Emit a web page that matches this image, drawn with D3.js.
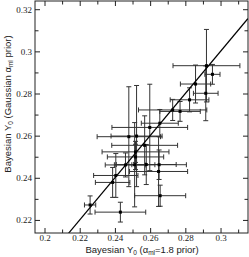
<!DOCTYPE html>
<html><head><meta charset="utf-8">
<script src="https://cdn.jsdelivr.net/npm/d3@7"></script>
<style>html,body{margin:0;padding:0;background:#fff}</style>
</head><body><svg id="c" width="249" height="257"></svg>
<script>
const xVals = [0.2259,0.2431,0.2387,0.2405,0.2460,0.2512,0.2578,0.2651,0.2648,0.2657,0.2517,0.2517,0.2479,0.2523,0.2569,0.2598,0.2655,0.2728,0.2770,0.2824,0.2916,0.2858,0.2954,0.2920];
const yVals = [0.2271,0.2237,0.2378,0.2411,0.2461,0.2462,0.2463,0.2462,0.2430,0.2315,0.2523,0.2499,0.2595,0.2598,0.2554,0.2639,0.2659,0.2722,0.2715,0.2770,0.2801,0.2845,0.2891,0.2932];
const xErr  = [0.0032,0.0144,0.0098,0.0126,0.0115,0.0115,0.0170,0.0155,0.0165,0.0145,0.0190,0.0160,0.0180,0.0145,0.0187,0.0215,0.0105,0.0194,0.0115,0.0110,0.0070,0.0086,0.0043,0.0190];
const yErr  = [0.0043,0.0047,0.0071,0.0104,0.0057,0.0200,0.0095,0.0070,0.0166,0.0050,0.0050,0.0060,0.0237,0.0240,0.0140,0.0205,0.0065,0.0050,0.0047,0.0057,0.0130,0.0090,0.0047,0.0172];
const xTickVals = [0.2,0.22,0.24,0.26,0.28,0.3];
const xTickLabels = ["0.2","0.22","0.24","0.26","0.28","0.3"];
const xMinorVals = [0.21,0.23,0.25,0.27,0.29,0.31];
const yTickVals = [0.22,0.24,0.26,0.28,0.3,0.32];
const yTickLabels = ["0.22","0.24","0.26","0.28","0.3","0.32"];
const yMinorVals = [0.23,0.25,0.27,0.29,0.31];
const xDomain = [0.1946,0.3156];
const yDomain = [0.2138,0.3239];

const L=35,R=248,T=1,B=233;
const svg = d3.select("#c");
const x = d3.scaleLinear().domain(xDomain).range([L,R]);
const y = d3.scaleLinear().domain(yDomain).range([B,T]);

const serif = "'Liberation Serif','DejaVu Serif',serif";
const sans = "'Liberation Sans',Arial,sans-serif";

function styleAxis(g){ g.select(".domain").remove(); g.selectAll("line").attr("stroke","#222"); g.selectAll("text").attr("font-family",serif).attr("font-size",9).attr("fill","#222"); }

svg.append("g").attr("transform",`translate(0,${B})`).call(d3.axisBottom(x).tickValues(xTickVals).tickSize(-5).tickPadding(2).tickFormat((d,i)=>xTickLabels[i])).call(styleAxis);
svg.append("g").attr("transform",`translate(0,${B})`).call(d3.axisBottom(x).tickValues(xMinorVals).tickSize(-3.5).tickFormat("")).call(styleAxis);
svg.append("g").attr("transform",`translate(0,${T})`).call(d3.axisTop(x).tickValues(xTickVals).tickSize(-5).tickFormat("")).call(styleAxis);
svg.append("g").attr("transform",`translate(0,${T})`).call(d3.axisTop(x).tickValues(xMinorVals).tickSize(-3.5).tickFormat("")).call(styleAxis);
svg.append("g").attr("transform",`translate(${L},0)`).call(d3.axisLeft(y).tickValues(yTickVals).tickSize(-5).tickPadding(3).tickFormat((d,i)=>yTickLabels[i])).call(styleAxis);
svg.append("g").attr("transform",`translate(${L},0)`).call(d3.axisLeft(y).tickValues(yMinorVals).tickSize(-3.5).tickFormat("")).call(styleAxis);
svg.append("g").attr("transform",`translate(${R},0)`).call(d3.axisRight(y).tickValues(yTickVals).tickSize(-5).tickFormat("")).call(styleAxis);
svg.append("g").attr("transform",`translate(${R},0)`).call(d3.axisRight(y).tickValues(yMinorVals).tickSize(-3.5).tickFormat("")).call(styleAxis);

svg.append("defs").append("clipPath").attr("id","clip").append("rect").attr("x",L).attr("y",T).attr("width",R-L).attr("height",B-T);

const pts = xVals.map((v,i)=>({x:v,y:yVals[i],ex:xErr[i],ey:yErr[i]}));
const eb = svg.append("g").attr("stroke","#333").attr("stroke-width",1).attr("fill","none");
const cap=2.5;
pts.forEach(p=>{
  const g = eb.append("g");
  g.append("line").attr("x1",x(p.x-p.ex)).attr("x2",x(p.x+p.ex)).attr("y1",y(p.y)).attr("y2",y(p.y));
  g.append("line").attr("x1",x(p.x)).attr("x2",x(p.x)).attr("y1",y(p.y-p.ey)).attr("y2",y(p.y+p.ey));
  [p.x-p.ex,p.x+p.ex].forEach(v=>g.append("line").attr("x1",x(v)).attr("x2",x(v)).attr("y1",y(p.y)-cap).attr("y2",y(p.y)+cap));
  [p.y-p.ey,p.y+p.ey].forEach(v=>g.append("line").attr("y1",y(v)).attr("y2",y(v)).attr("x1",x(p.x)-cap).attr("x2",x(p.x)+cap));
});

svg.append("line").attr("clip-path","url(#clip)").attr("x1",x(xDomain[0])).attr("y1",y(xDomain[0])).attr("x2",x(xDomain[1])).attr("y2",y(xDomain[1])).attr("stroke","#000").attr("stroke-width",1.2);

svg.append("g").selectAll("rect").data(pts).join("rect").attr("x",d=>x(d.x)-1.5).attr("y",d=>y(d.y)-1.5).attr("width",3).attr("height",3).attr("fill","#000");

svg.append("rect").attr("x",L).attr("y",T).attr("width",R-L).attr("height",B-T).attr("fill","none").attr("stroke","#222").attr("stroke-width",1);

const xt = svg.append("text").attr("x",142).attr("y",253).attr("text-anchor","middle").attr("font-family",sans).attr("font-size",9.5).attr("fill","#222");
xt.append("tspan").text("Bayesian Y");
xt.append("tspan").attr("font-size",6.5).attr("dy",2).text("0");
xt.append("tspan").attr("dy",-2).text(" (\u03b1");
xt.append("tspan").attr("font-size",6.5).attr("dy",2).text("ml");
xt.append("tspan").attr("dy",-2).text("=1.8 prior)");

const yt = svg.append("text").attr("transform","translate(8,104) rotate(-90)").attr("text-anchor","middle").attr("font-family",sans).attr("font-size",9.5).attr("fill","#222").attr("dy","0.35em");
yt.append("tspan").text("Bayesian Y");
yt.append("tspan").attr("font-size",6.5).attr("dy",2).text("0");
yt.append("tspan").attr("dy",-2).text(" (Gaussian \u03b1");
yt.append("tspan").attr("font-size",6.5).attr("dy",2).text("ml");
yt.append("tspan").attr("dy",-2).text(" prior)");
</script></body></html>
